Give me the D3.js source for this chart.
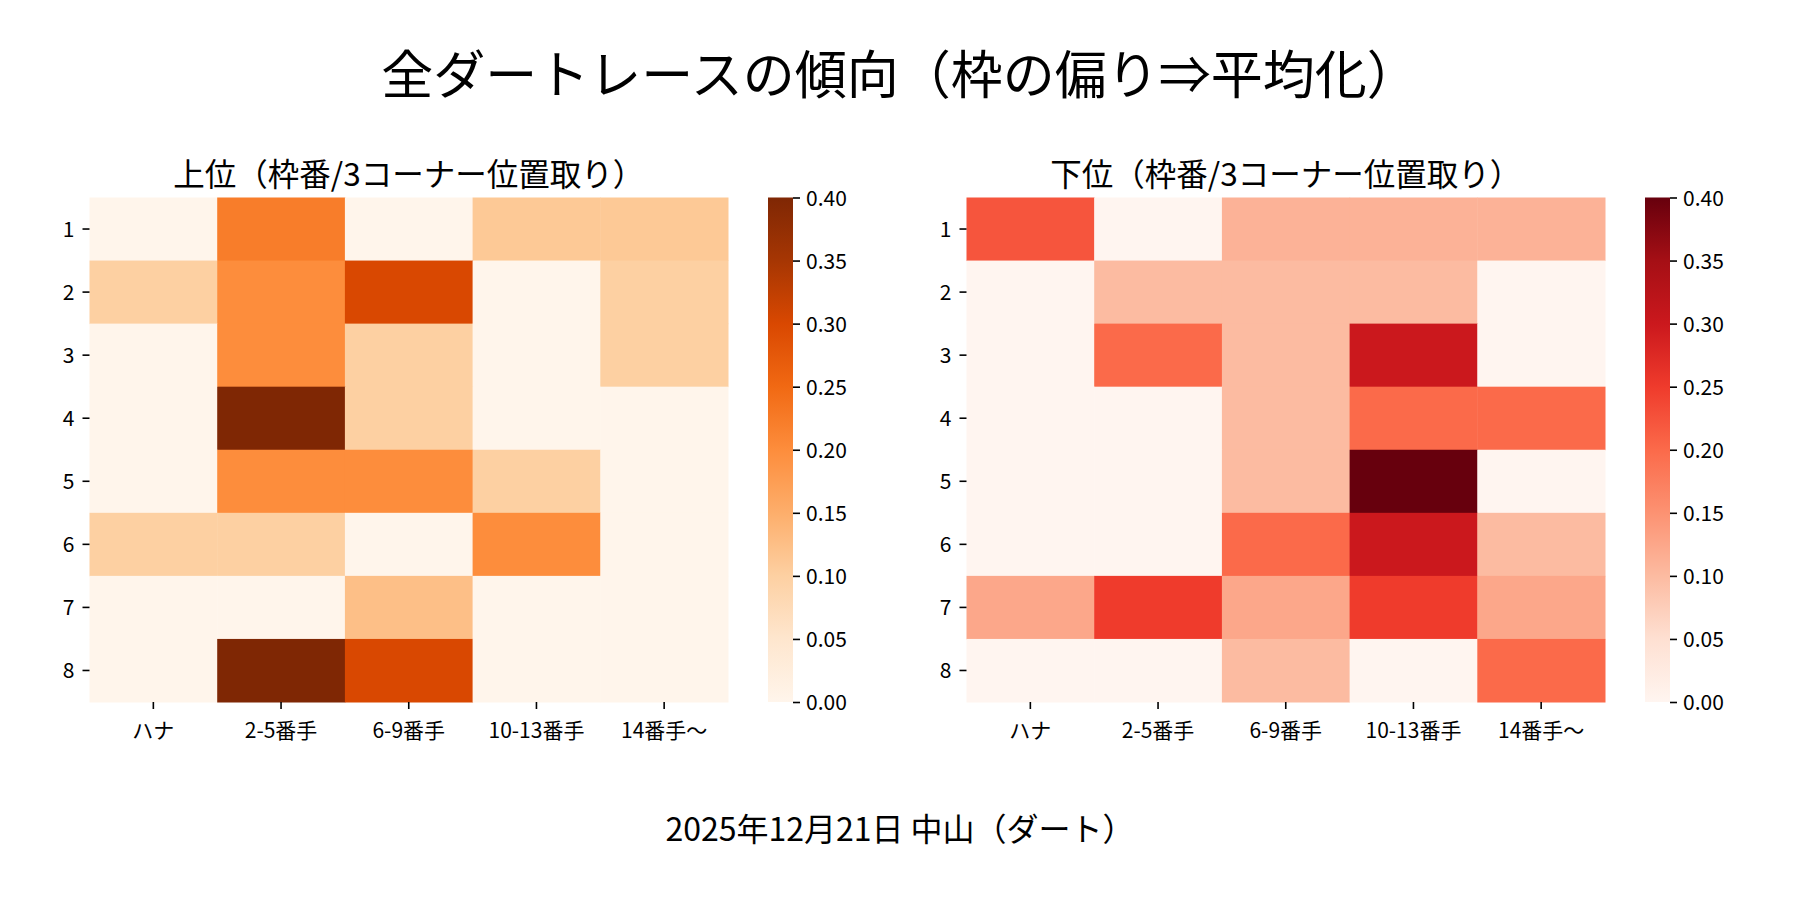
<!DOCTYPE html>
<html>
<head>
<meta charset="utf-8">
<script src="https://cdn.jsdelivr.net/npm/d3@7"></script>
<style>
  html, body { margin: 0; padding: 0; background: #fff; }
  svg { display: block; }
  text { font-family: "Noto Sans CJK JP", "Noto Sans", sans-serif; fill: #000; }
</style>
</head>
<body>
<script>
// ---------- data ----------
const mainTitle = "全ダートレースの傾向（枠の偏り⇒平均化）";
const footerText = "2025年12月21日 中山（ダート）";
const leftTitle = "上位（枠番/3コーナー位置取り）";
const rightTitle = "下位（枠番/3コーナー位置取り）";
const rowLabels = ["1", "2", "3", "4", "5", "6", "7", "8"];
const colLabels = ["ハナ", "2-5番手", "6-9番手", "10-13番手", "14番手〜"];
// 上位 (Oranges)
const topValues = [
  [0.000, 0.222, 0.000, 0.111, 0.111],
  [0.100, 0.200, 0.300, 0.000, 0.100],
  [0.000, 0.200, 0.100, 0.000, 0.100],
  [0.000, 0.400, 0.100, 0.000, 0.000],
  [0.000, 0.200, 0.200, 0.100, 0.000],
  [0.100, 0.100, 0.000, 0.200, 0.000],
  [0.000, 0.000, 0.125, 0.000, 0.000],
  [0.000, 0.400, 0.300, 0.000, 0.000]
];
// 下位 (Reds)
const bottomValues = [
  [0.222, 0.000, 0.111, 0.111, 0.111],
  [0.000, 0.100, 0.100, 0.100, 0.000],
  [0.000, 0.200, 0.100, 0.300, 0.000],
  [0.000, 0.000, 0.100, 0.200, 0.200],
  [0.000, 0.000, 0.100, 0.400, 0.000],
  [0.000, 0.000, 0.200, 0.300, 0.100],
  [0.125, 0.250, 0.125, 0.250, 0.125],
  [0.000, 0.000, 0.100, 0.000, 0.200]
];
const colorTicks = [0.00, 0.05, 0.10, 0.15, 0.20, 0.25, 0.30, 0.35, 0.40];
const vMin = 0, vMax = 0.4;
const orangesStops = ["#fff5eb","#fee6ce","#fdd0a2","#fdae6b","#fd8d3c","#f16913","#d94801","#a63603","#7f2704"];
const redsStops    = ["#fff5f0","#fee0d2","#fcbba1","#fc9272","#fb6a4a","#ef3b2c","#cb181d","#a50f15","#67000d"];

// ---------- layout ----------
const W = 1800, H = 900;
const svg = d3.select("body").append("svg").attr("width", W).attr("height", H);

svg.append("text").attr("x", 900).attr("y", 94).attr("text-anchor", "middle")
  .attr("font-size", 52).text(mainTitle);
svg.append("text").attr("x", 900).attr("y", 841).attr("text-anchor", "middle")
  .attr("font-size", 32).text(footerText);

function makeScale(stops) {
  const dom = stops.map((_, i) => vMin + (vMax - vMin) * i / (stops.length - 1));
  return d3.scaleLinear().domain(dom).range(stops).interpolate(d3.interpolateRgb).clamp(true);
}

function drawPanel(id, x0, values, stops, title) {
  const top = 197.5, hw = 638.5, hh = 504.5;
  const g = svg.append("g").attr("transform", `translate(${x0},${top})`);
  const x = d3.scaleBand().domain(colLabels).range([0, hw]);
  const y = d3.scaleBand().domain(rowLabels).range([0, hh]);
  const color = makeScale(stops);

  const cells = [];
  values.forEach((row, i) => row.forEach((v, j) => cells.push({ r: rowLabels[i], c: colLabels[j], v })));
  g.selectAll("rect.cell").data(cells).join("rect").attr("class", "cell")
    .attr("x", d => x(d.c)).attr("y", d => y(d.r))
    .attr("width", x.bandwidth() + 0.5).attr("height", y.bandwidth() + 0.5)
    .attr("fill", d => color(d.v));

  // x axis
  const xa = g.append("g").attr("transform", `translate(0,${hh})`)
    .call(d3.axisBottom(x).tickSize(7).tickPadding(0));
  xa.select(".domain").remove();
  xa.selectAll("line").attr("stroke", "#000").attr("stroke-width", 1.6);
  xa.selectAll("text").attr("font-size", 21).attr("dy", null).attr("y", 35.5).attr("fill", "#000");

  // y axis
  const ya = g.append("g").call(d3.axisLeft(y).tickSize(7).tickPadding(0));
  ya.select(".domain").remove();
  ya.selectAll("line").attr("stroke", "#000").attr("stroke-width", 1.6);
  ya.selectAll("text").attr("font-size", 21).attr("dy", "0.36em").attr("x", -15).attr("fill", "#000");

  // title
  g.append("text").attr("x", hw / 2).attr("y", -11.5).attr("text-anchor", "middle")
    .attr("font-size", 31.5).text(title);

  // colorbar
  const cbX = 678.5, cbW = 25;
  const grad = svg.append("defs").append("linearGradient").attr("id", id)
    .attr("x1", 0).attr("y1", 1).attr("x2", 0).attr("y2", 0);
  stops.forEach((s, i) => grad.append("stop").attr("offset", i / (stops.length - 1)).attr("stop-color", s));
  g.append("rect").attr("x", cbX).attr("y", 0).attr("width", cbW).attr("height", hh)
    .attr("fill", `url(#${id})`);
  const cy = d3.scaleLinear().domain([vMin, vMax]).range([hh, 0]);
  const ca = g.append("g").attr("transform", `translate(${cbX + cbW},0)`)
    .call(d3.axisRight(cy).tickValues(colorTicks).tickFormat(d3.format(".2f")).tickSize(7).tickPadding(0));
  ca.select(".domain").remove();
  ca.selectAll("line").attr("stroke", "#000").attr("stroke-width", 1.6);
  ca.selectAll("text").attr("font-size", 21).attr("dy", "0.36em").attr("x", 13).attr("fill", "#000");
}

drawPanel("gradOr", 89.5, topValues, orangesStops, leftTitle);
drawPanel("gradRd", 966.5, bottomValues, redsStops, rightTitle);
</script>
</body>
</html>
